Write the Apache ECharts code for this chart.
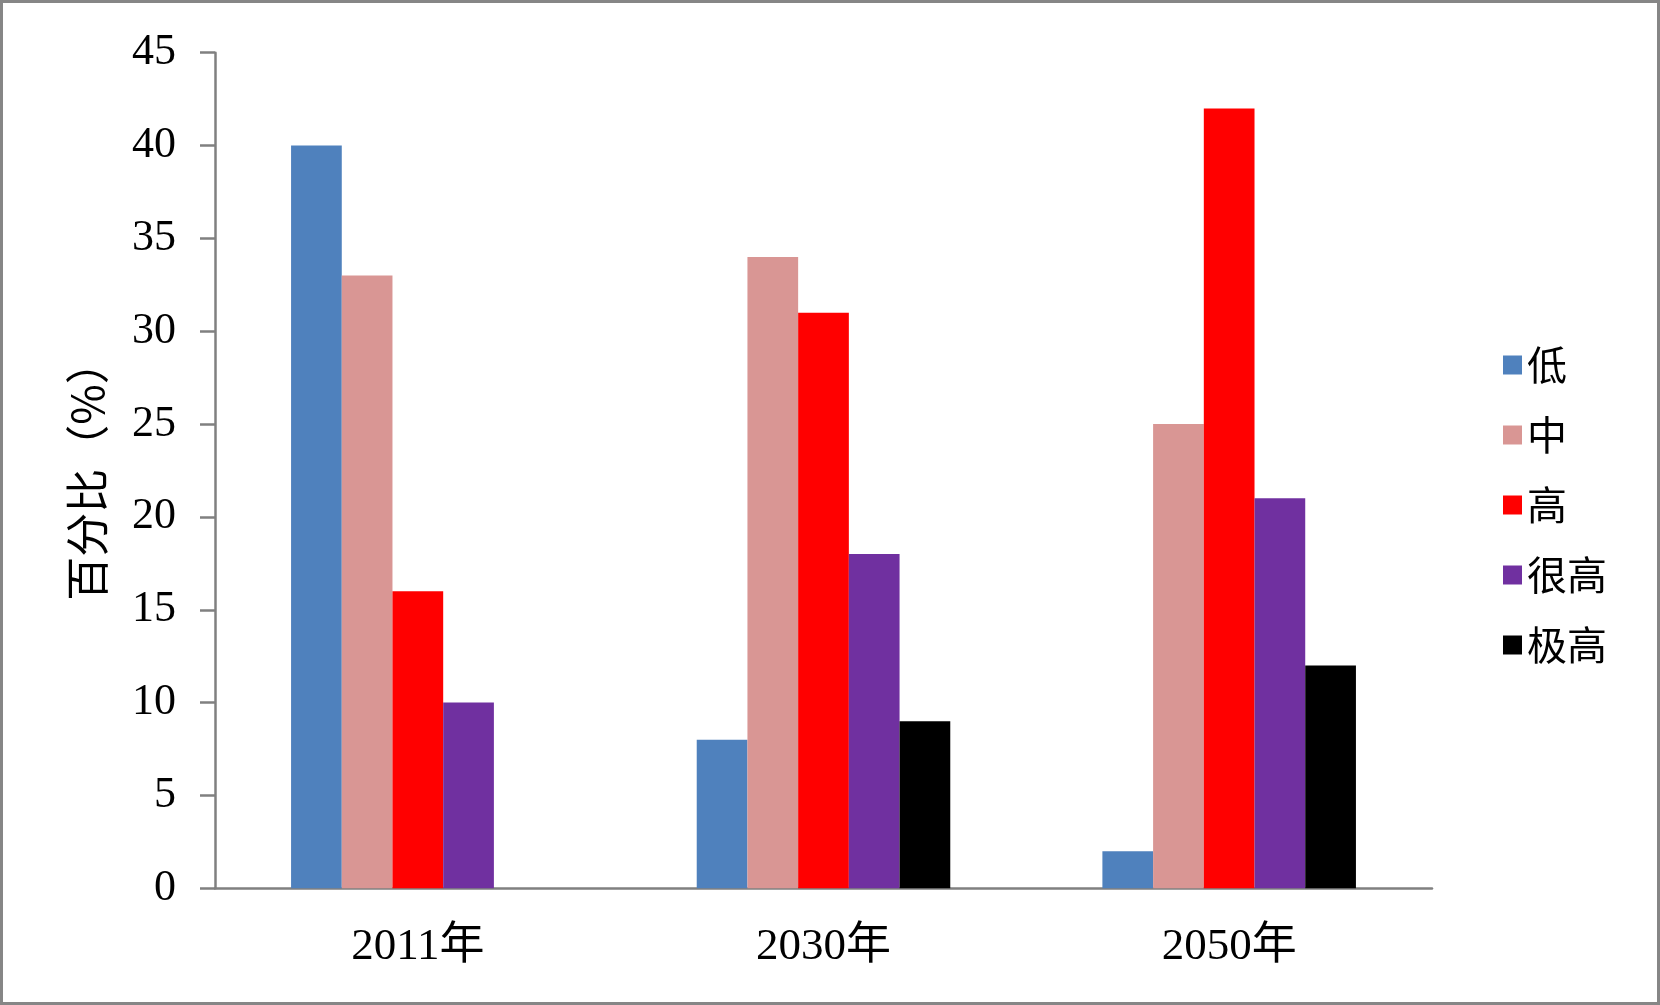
<!DOCTYPE html>
<html><head><meta charset="utf-8">
<script src="https://cdn.jsdelivr.net/npm/echarts@6/dist/echarts.min.js"></script>
<style>html,body{margin:0;padding:0;background:#fff}#c{width:1660px;height:1005px}</style>
</head><body><div id="c"></div>
<script>
const categories = ['2011年', '2030年', '2050年'];
const seriesNames = ['低', '中', '高', '很高', '极高'];
const low = [40, 8, 2];
const mid = [33, 34, 25];
const high = [16, 31, 42];
const veryHigh = [10, 18, 21];
const extreme = [0, 9, 12];
const yTicks = [0, 5, 10, 15, 20, 25, 30, 35, 40, 45];
const colors = ['#4F81BD', '#D99694', '#FF0000', '#7030A0', '#000000'];

const values = [low, mid, high, veryHigh, extreme];
const chart = echarts.init(document.getElementById('c'));
const serif = '"Liberation Serif", "Noto Sans CJK SC", serif';
chart.setOption({
  animation: false,
  backgroundColor: '#fff',
  grid: { left: 215, top: 52.7, right: 228, bottom: 116.7, containLabel: false },
  legend: {
    orient: 'vertical', left: 1498, top: 338,
    itemWidth: 19, itemHeight: 19, itemGap: 26,
    icon: 'rect',
    textStyle: { fontFamily: '"Noto Sans CJK SC", sans-serif', fontSize: 40, color: '#000', lineHeight: 44, padding: [0,0,0,0] },
    data: seriesNames
  },
  xAxis: {
    type: 'category', data: categories,
    axisLine: { lineStyle: { color: '#808080', width: 2.5 } },
    axisTick: { show: false },
    axisLabel: { fontFamily: serif, fontSize: 45, color: '#000', margin: 36 }
  },
  yAxis: {
    type: 'value', min: 0, max: 45, interval: 5,
    name: '百分比（%）', nameLocation: 'middle', nameGap: 106, nameRotate: 90,
    nameTextStyle: { fontFamily: '"Noto Sans CJK SC", sans-serif', fontSize: 44, color: '#000' },
    axisLine: { show: true, lineStyle: { color: '#808080', width: 2.5 } },
    axisTick: { show: true, length: 15, lineStyle: { color: '#808080', width: 2.5 } },
    splitLine: { show: false },
    axisLabel: { fontFamily: serif, fontSize: 44, color: '#000', margin: 39,
      formatter: v => yTicks.includes(v) ? String(v) : '' }
  },
  series: seriesNames.map((n, i) => ({
    name: n, type: 'bar', data: values[i],
    itemStyle: { color: colors[i] },
    barGap: '0%', barCategoryGap: '37.5%'
  })),
  graphic: [{
    type: 'rect', shape: { x: 1.5, y: 1.5, width: 1657, height: 1002 },
    style: { fill: 'none', stroke: '#868686', lineWidth: 3 }, z: 100
  }]
});
</script></body></html>
